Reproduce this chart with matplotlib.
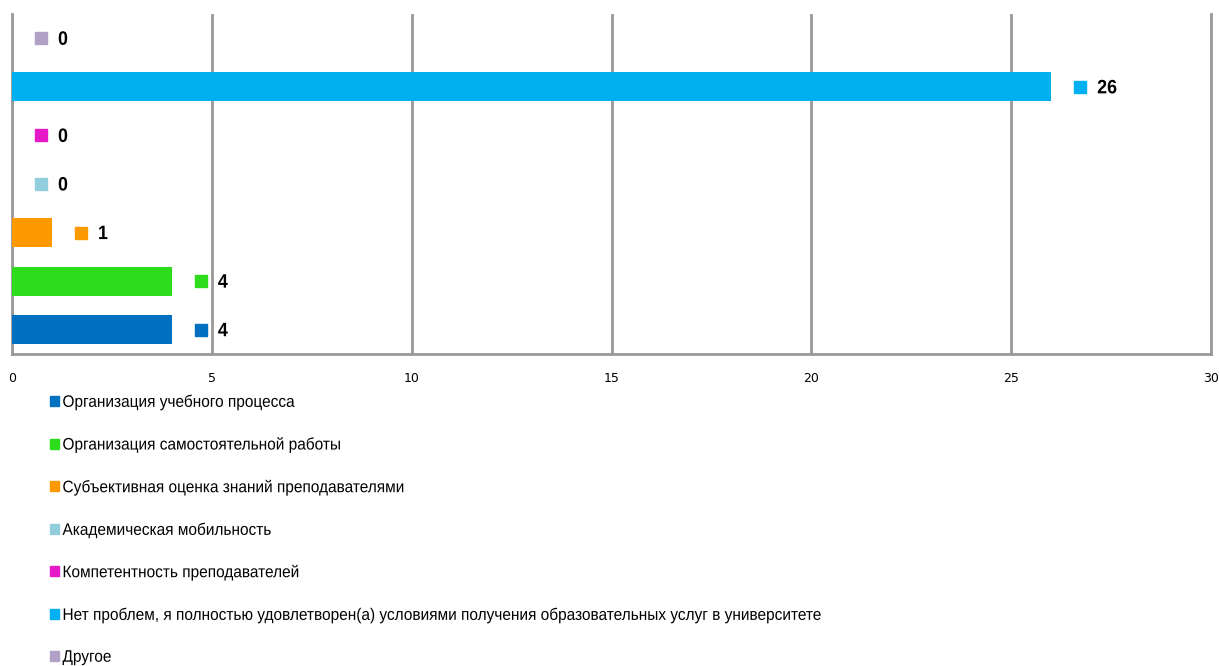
import matplotlib.pyplot as plt
from matplotlib.patches import Patch
from matplotlib.patheffects import AbstractPathEffect
from matplotlib.transforms import Affine2D, offset_copy

categories = [
    "Организация учебного процесса",
    "Организация самостоятельной работы",
    "Субъективная оценка знаний преподавателями",
    "Академическая мобильность",
    "Компетентность преподавателей",
    "Нет проблем, я полностью удовлетворен(а) условиями получения образовательных услуг в университете",
    "Другое",
]
values = [4, 4, 1, 0, 0, 26, 0]
colors = ["#0070C0", "#2DDC1B", "#FF9900", "#92CDDC", "#E619C8", "#00B0F0", "#B2A1C7"]
xticks = [0, 5, 10, 15, 20, 25, 30]


class Condense(AbstractPathEffect):
    # squeeze left-aligned text horizontally, like a narrow font
    def __init__(self, sx):
        super().__init__()
        self.sx = sx

    def draw_path(self, renderer, gc, tpath, affine, rgbFace=None):
        renderer.draw_path(gc, tpath, Affine2D().scale(self.sx, 1) + affine, rgbFace)


narrow = ["Liberation Sans", "DejaVu Sans"]

fig = plt.figure(figsize=(12.19, 6.66), dpi=100)
ax = fig.add_axes([12 / 1219, 1 - 354 / 666, 1199 / 1219, 340 / 666])

pos = list(range(len(values)))
ax.barh(pos, values, height=0.6, color=colors, zorder=3)

ax.set_xlim(0, 30)
ax.set_ylim(-0.5, len(values) - 0.5)
ax.set_xticks(xticks)
ax.set_yticks([])
ax.grid(axis="x", color="#999999", linewidth=2, zorder=0)
ax.tick_params(axis="x", length=0, pad=13, labelsize=9)
ax.spines["top"].set_visible(False)
for s in ["left", "bottom", "right"]:
    ax.spines[s].set_color("#999999")
    ax.spines[s].set_linewidth(2)

# value labels: coloured square and bold number right of each bar
mtrans = offset_copy(ax.transData, fig=fig, x=29, y=0, units="dots")
for p, v, c in zip(pos, values, colors):
    ax.plot(v, p, "s", color=c, markersize=8, transform=mtrans, clip_on=False, zorder=4)
    ax.annotate(str(v), (v, p), xytext=(46, -2), textcoords="offset pixels",
                ha="left", va="center", fontsize=14, fontweight="bold", family=narrow,
                path_effects=[Condense(0.92)])

handles = [Patch(color=c, label=l) for c, l in zip(colors, categories)]
leg = fig.legend(handles=handles, loc="upper left", bbox_to_anchor=(0.041, 1 - 394 / 666),
                 frameon=False, prop={"family": narrow, "size": 12},
                 handlelength=0.55, handleheight=0.55, handletextpad=0.2,
                 labelspacing=1.61, borderaxespad=0, borderpad=0)
for t in leg.get_texts():
    t.set_path_effects([Condense(0.925)])

fig.savefig("out.png", dpi=100)
